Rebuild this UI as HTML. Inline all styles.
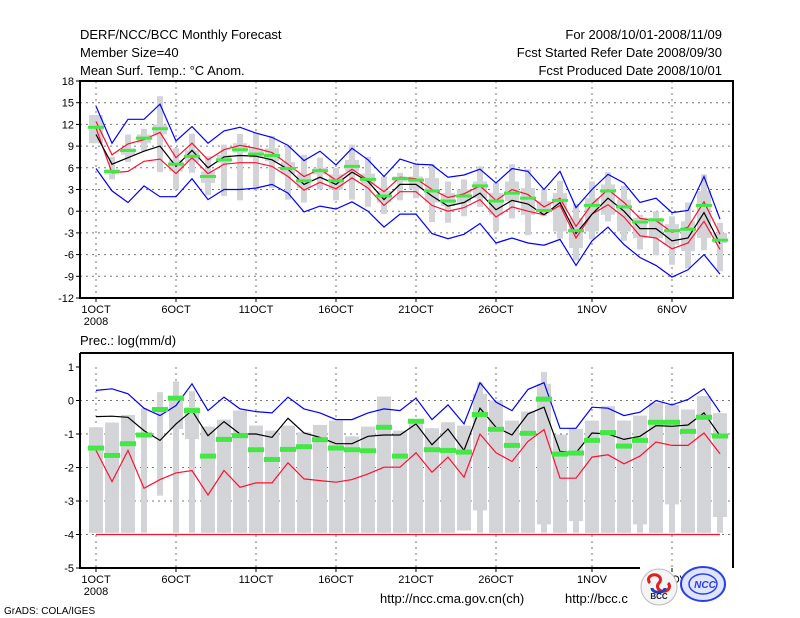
<!DOCTYPE html>
<html><head><meta charset="utf-8">
<style>
html,body{margin:0;padding:0;background:#fff;}
svg{display:block;font-family:"Liberation Sans",sans-serif;}
</style></head>
<body>
<svg id="chart" width="800" height="618" viewBox="0 0 800 618" xmlns="http://www.w3.org/2000/svg">
<rect width="800" height="618" fill="#fff"/>
<g font-size="13" fill="#000">
<text x="80" y="39">DERF/NCC/BCC Monthly Forecast</text>
<text x="80" y="57">Member Size=40</text>
<text x="80" y="75">Mean Surf. Temp.: °C Anom.</text>
<text x="722" y="39" text-anchor="end">For 2008/10/01-2008/11/09</text>
<text x="722" y="57" text-anchor="end">Fcst Started Refer Date 2008/09/30</text>
<text x="722" y="75" text-anchor="end">Fcst Produced Date 2008/10/01</text>
<text x="80" y="345">Prec.: log(mm/d)</text>
<text x="380" y="603">http://ncc.cma.gov.cn(ch)</text>
<text x="565" y="603">http://bcc.c</text>
</g>
<text x="4" y="614" font-size="10">GrADS: COLA/IGES</text>
<g id="top"></g>
<g id="bot"></g>
<g>
<circle cx="659" cy="587" r="18" fill="#f4f4f4" stroke="#bbb"/>
<path d="M650 583 a6 5 0 1 1 9 0 a6 5 0 1 0 9 0" fill="none" stroke="#e02020" stroke-width="3"/>
<path d="M652 588 a6 4 0 0 0 13 0" fill="none" stroke="#2040c0" stroke-width="3"/>
<text x="659" y="599" font-size="8" font-weight="bold" text-anchor="middle" fill="#223">BCC</text>
</g>
<g>
<ellipse cx="703" cy="584" rx="22" ry="17" fill="#dfe4ff" stroke="#2a3ee8" stroke-width="2"/>
<ellipse cx="703" cy="584" rx="14" ry="10" fill="none" stroke="#2a3ee8" stroke-width="1.5"/>
<text x="705" y="588" font-size="10" font-weight="bold" font-style="italic" text-anchor="middle" fill="#2a3ee8">NCC</text>
</g>
</svg>
<script>
// ---- data ----
const days = ["1OCT","2","3","4","5","6OCT","7","8","9","10","11OCT","12","13","14","15","16OCT","17","18","19","20","21OCT","22","23","24","25","26OCT","27","28","29","30","31","1NOV","2","3","4","5","6NOV","7","8","9"];
const tTickLabels = [18,15,12,9,6,3,0,-3,-6,-9,-12];
const pTickLabels = [1,0,-1,-2,-3,-4,-5];
const xTickDays = [0,5,10,15,20,25,31,36];
const xTickLabels = ["1OCT","6OCT","11OCT","16OCT","21OCT","26OCT","1NOV","6NOV"];
// temperature
const tBlueHi = [14.5,9.4,12.7,12.7,14.8,9.7,11.7,9.4,11.1,11.6,10.8,10.2,9.1,7.0,8.3,6.4,8.7,7.1,4.8,7.2,6.5,6.4,4.7,5.0,5.8,3.9,5.9,5.5,3.0,5.5,0.5,3.0,5.1,3.9,1.2,1.8,-0.2,0.1,4.8,-1.1];
const tBlueLo = [5.9,2.8,1.2,3.5,2.0,2.0,4.5,1.6,3.0,3.0,3.2,3.7,2.5,-0.1,0.7,0.3,1.3,0.0,-2.2,-0.4,-0.4,-3.1,-3.8,-3.2,-1.7,-4.4,-3.7,-4.4,-4.7,-3.9,-7.5,-4.1,-2.2,-4.6,-6.4,-7.5,-9.1,-8.1,-6.0,-8.7];
const tRedHi = [12.4,7.8,9.3,9.9,10.9,7.4,9.4,7.1,8.5,9.1,8.7,8.1,6.5,4.8,5.8,4.3,5.8,4.3,2.7,4.7,4.5,3.0,1.9,2.4,3.5,1.5,3.0,2.3,0.6,1.8,-2.1,1.0,3.0,1.2,-1.0,-1.3,-2.9,-2.2,1.3,-3.2];
const tRedLo = [11.5,5.3,5.5,6.9,7.2,5.2,7.4,5.2,6.5,6.7,6.7,6.2,4.8,2.9,4.0,3.1,4.6,3.2,0.8,2.7,2.7,0.8,0.0,0.5,1.6,-0.8,0.6,0.0,-0.5,0.8,-3.7,-0.4,0.9,-0.8,-3.4,-3.7,-5.2,-4.4,-1.4,-5.3];
const tMean = [10.6,6.5,7.4,8.3,9.0,6.2,8.4,6.0,7.5,7.7,7.6,7.1,5.8,3.7,4.7,3.7,5.4,4.1,1.6,3.7,3.7,2.1,0.7,1.2,2.5,0.2,1.5,1.0,-0.5,1.2,-3.1,-0.4,1.8,0.0,-2.4,-2.4,-4.1,-3.7,-0.2,-4.5];
const tObs = [11.6,5.5,8.4,10.1,11.4,6.5,7.6,4.8,7.1,8.5,7.9,7.7,5.9,4.2,5.6,4.2,6.2,4.4,2.1,4.5,4.3,2.8,1.4,2.1,3.5,1.4,2.5,1.8,0.1,1.5,-2.7,0.8,2.8,0.6,-1.5,-1.2,-2.7,-2.5,0.8,-4.0];
const tWhHi = [13.3,7.5,10.6,11.4,15.9,8.7,10.7,7.6,9.2,10.7,10.8,10.4,9.0,7.8,7.4,6.0,9.2,7.5,4.8,5.3,6.7,6.5,4.1,4.4,6.2,3.9,6.5,5.8,3.0,4.2,1.0,4.1,5.4,3.5,-0.5,0.0,-0.7,1.2,5.1,-1.6];
const tWhLo = [9.4,4.4,6.8,8.3,5.4,3.0,5.3,2.2,2.1,1.5,3.0,3.2,1.6,1.2,3.0,1.5,1.6,0.6,-0.4,1.5,1.8,-1.5,-1.6,-0.7,0.6,-2.8,-1.0,-3.3,-0.7,-3.8,-6.8,-3.9,-1.4,-4.1,-5.3,-6.1,-7.4,-7.9,-5.4,-8.3];
const tBxHi = [13.3,5.8,8.7,10.6,12.0,7.1,8.4,5.5,7.8,9.4,8.7,8.7,6.8,5.1,6.0,5.1,7.1,5.2,2.8,4.8,4.8,4.6,2.5,3.0,4.1,2.5,4.1,3.2,1.4,2.5,-0.9,1.8,3.7,1.6,-0.9,-0.9,-1.8,-1.4,2.8,-3.0];
const tBxLo = [9.4,5.1,7.8,9.4,10.6,5.5,6.8,3.9,6.7,8.1,7.4,6.9,5.1,3.2,5.1,3.0,5.5,3.7,1.2,4.1,3.0,1.2,0.7,1.2,1.8,-0.5,1.4,-0.5,0.0,-2.8,-5.1,-2.8,-0.5,-2.8,-3.7,-3.7,-4.6,-5.5,-3.7,-4.4];
// precipitation
const pBlue = [0.30,0.35,0.20,-0.23,-0.45,-0.15,0.50,-0.30,0.10,-0.25,-0.33,-0.37,0.10,-0.25,-0.37,-0.57,-0.57,-0.37,-0.25,-0.30,0.07,-0.57,-0.13,-0.70,0.53,-0.05,-0.30,0.33,0.53,-0.83,-0.83,-0.20,-0.23,-0.45,-0.35,0.00,-0.13,0.03,0.35,-0.35];
const pMean = [-0.48,-0.47,-0.50,-0.90,-1.19,-0.70,-0.30,-1.05,-0.63,-1.00,-1.00,-1.10,-0.53,-0.97,-1.10,-1.29,-1.29,-1.07,-1.03,-1.03,-0.70,-1.32,-0.85,-1.49,-0.23,-0.80,-1.03,-0.40,-0.20,-1.52,-1.56,-0.97,-1.00,-1.16,-1.07,-0.75,-0.77,-0.73,-0.37,-1.05];
const pRed = [-1.49,-2.42,-1.49,-2.62,-2.36,-2.16,-2.09,-2.82,-2.09,-2.59,-2.46,-2.46,-1.86,-2.34,-2.39,-2.44,-2.36,-2.19,-1.99,-1.99,-1.56,-2.14,-1.69,-2.29,-1.00,-1.56,-1.82,-1.22,-0.87,-2.32,-2.32,-1.69,-1.62,-1.89,-1.66,-1.24,-1.34,-1.34,-0.97,-1.59];
const pMin = [-4,-4,-4,-4,-4,-4,-4,-4,-4,-4,-4,-4,-4,-4,-4,-4,-4,-4,-4,-4,-4,-4,-4,-4,-4,-4,-4,-4,-4,-4,-4,-4,-4,-4,-4,-4,-4,-4,-4,-4];
const pObs = [-1.42,-1.64,-1.29,-1.03,-0.27,0.07,-0.30,-1.66,-1.16,-1.05,-1.47,-1.76,-1.46,-1.38,-1.17,-1.42,-1.47,-1.50,-0.80,-1.66,-0.62,-1.47,-1.49,-1.54,-0.42,-0.86,-1.34,-0.98,0.04,-1.60,-1.57,-1.19,-0.96,-1.36,-1.19,-0.65,-0.65,-0.92,-0.50,-1.06];
const pWhHi = [-0.80,-0.66,-0.43,-0.23,0.25,0.57,0.28,-0.78,-0.57,-0.30,-0.75,-0.90,-0.75,-0.95,-0.73,-0.60,-1.07,-0.78,0.12,-0.90,-0.60,-0.83,-0.65,-0.75,0.53,0.00,-0.60,-0.33,0.85,-1.02,-0.85,-0.60,-0.17,-0.60,-0.45,-0.07,-0.13,-0.27,0.13,-0.38];
const pWhLo = [-3.95,-3.95,-3.95,-3.95,-2.84,-3.95,-3.95,-3.95,-3.95,-3.95,-3.95,-3.95,-3.95,-3.95,-3.95,-3.95,-3.95,-3.95,-3.95,-3.95,-3.95,-3.95,-3.95,-3.88,-3.95,-3.95,-3.95,-3.95,-3.95,-3.95,-3.95,-3.95,-3.95,-3.95,-3.95,-3.95,-3.95,-3.95,-3.95,-3.95];
const pBxHi = [-0.80,-0.66,-0.43,-3.95,-2.84,0.12,-0.20,-0.78,-0.57,-0.30,-0.75,-0.90,-0.75,-0.95,-0.73,-0.60,-1.07,-0.78,0.12,-0.90,-0.60,-0.83,-0.65,-0.75,0.20,0.00,-0.60,-0.33,0.50,-1.02,-0.85,-0.60,-0.17,-0.60,-0.45,-0.07,-0.13,-0.27,0.13,-0.38];
const pBxLo = [-3.95,-3.95,-3.95,-3.95,-2.84,-0.85,-1.15,-3.95,-3.95,-3.95,-3.95,-3.95,-3.95,-3.95,-3.95,-3.95,-3.95,-3.95,-3.95,-3.95,-3.95,-3.95,-3.95,-3.88,-3.28,-3.95,-3.95,-3.95,-3.70,-3.95,-3.60,-3.95,-3.95,-3.95,-3.70,-3.95,-3.10,-3.95,-3.95,-3.48];

const NS = "http://www.w3.org/2000/svg";
function mk(parent, tag, attrs){const e=document.createElementNS(NS,tag);for(const k in attrs)e.setAttribute(k,attrs[k]);parent.appendChild(e);return e;}
function xOf(i){return 96 + 16*i;}

function panel(g, y0, y1, vmax, vmin, ticks, showFrameRight){
  const L=80,R=733;
  const y = v => y0 + (vmax - v)/(vmax - vmin)*(y1 - y0);
  // grid
  ticks.forEach(t=>{
    if(t!==vmax && t!==vmin){
      const gl=mk(g,"line",{x1:L,x2:R,y1:y(t),y2:y(t),stroke:"#777","stroke-dasharray":"2,4","stroke-width":1});
      
      
    }
    const tl=mk(g,"text",{x:74,y:y(t)+4,"text-anchor":"end","font-size":11});
    tl.textContent=t;
    
    
    mk(g,"line",{x1:L-4,x2:L,y1:y(t),y2:y(t),stroke:"#000"});
  });
  xTickDays.forEach((d,k)=>{
    const vl=mk(g,"line",{x1:xOf(d),x2:xOf(d),y1:y0,y2:y1,stroke:"#777","stroke-dasharray":"2,4"});
    
    
    mk(g,"line",{x1:xOf(d),x2:xOf(d),y1:y1,y2:y1+4,stroke:"#000"});
    const xl=mk(g,"text",{x:xOf(d),y:y1+15,"text-anchor":"middle","font-size":11});
    xl.textContent=xTickLabels[k];
    
    
  });
  const yr=mk(g,"text",{x:xOf(0),y:y1+27,"text-anchor":"middle","font-size":11});
  yr.textContent="2008";
  
  
  return y;
}
function bars(g,y,wHi,wLo,bHi,bLo){
  for(let i=0;i<wHi.length;i++){
    const w=mk(g,"rect",{x:xOf(i)-3,y:y(wHi[i]),width:6,height:Math.max(0,y(wLo[i])-y(wHi[i])),fill:"#d3d4d8"});
    
    
    const b=mk(g,"rect",{x:xOf(i)-7,y:y(bHi[i]),width:14,height:Math.max(0,y(bLo[i])-y(bHi[i])),fill:"#d3d4d8"});
    
    
  }
}
function line(g,y,arr,color,name){
  const pts=arr.map((v,i)=>xOf(i)+","+y(v).toFixed(1)).join(" ");
  const p=mk(g,"polyline",{points:pts,fill:"none",stroke:color,"stroke-width":1.2});
  
  
}
function obs(g,y,arr,h){
  arr.forEach((v,i)=>{
    const r=mk(g,"rect",{x:xOf(i)-8,y:y(v)-h/2,width:16,height:h,fill:"#44e844"});
    
    
  });
}

// top panel
const gt=document.getElementById("top");


const yT=panel(gt,81,298,18,-12,tTickLabels);
bars(gt,yT,tWhHi,tWhLo,tBxHi,tBxLo);
line(gt,yT,tBlueHi,"#0000ff","blue-upper-line");
line(gt,yT,tBlueLo,"#0000ff","blue-lower-line");
line(gt,yT,tRedHi,"#ff1030","red-upper-line");
line(gt,yT,tRedLo,"#ff1030","red-lower-line");
line(gt,yT,tMean,"#000","ensemble-mean-line");
obs(gt,yT,tObs,3);
mk(gt,"rect",{x:80,y:81,width:653,height:217,fill:"none",stroke:"#000","stroke-width":2});

// bottom panel
const gb=document.getElementById("bot");


const yP=panel(gb,367-33.5*0+0-0,568,1,-5,pTickLabels);
bars(gb,yP,pWhHi,pWhLo,pBxHi,pBxLo);
line(gb,yP,pBlue,"#0000ff","blue-upper-line");
line(gb,yP,pMean,"#000","ensemble-mean-line");
line(gb,yP,pRed,"#ff1030","red-lower-line");
line(gb,yP,pMin,"#ff1030","red-min-line");
obs(gb,yP,pObs,5);
mk(gb,"polyline",{points:"80,353 733,353 733,568",fill:"none",stroke:"#000","stroke-width":2});
mk(gb,"polyline",{points:"80,353 80,568 640,568",fill:"none",stroke:"#000","stroke-width":2});
</script>
</body></html>
